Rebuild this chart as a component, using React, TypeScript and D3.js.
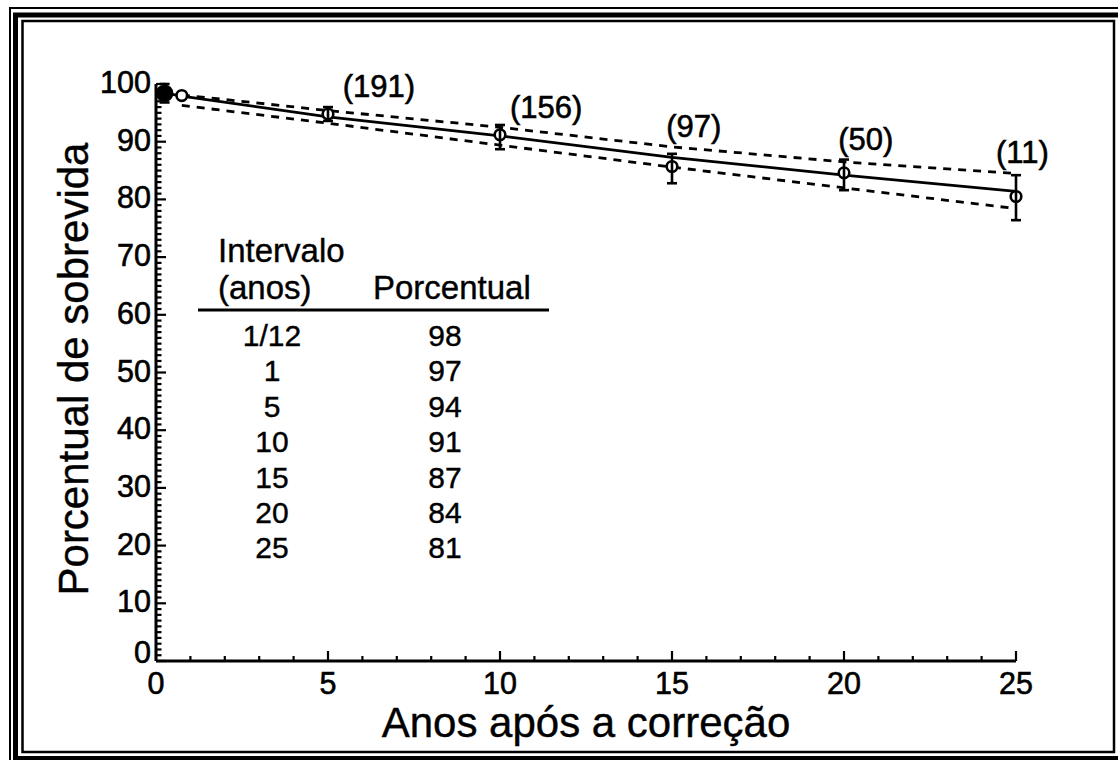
import React from "react";
import * as d3 from "d3";

// ---- data ----
const pointX = [0.25, 0.75, 5, 10, 15, 20, 25];
const pointY = [98.4, 98.0, 94.8, 91.2, 85.7, 84.6, 80.5];
const errHi = [100.0, 98.0, 96.0, 92.9, 87.9, 86.9, 84.2];
const errLo = [96.8, 98.0, 93.6, 88.7, 82.8, 81.6, 76.4];
const pointFilled = [true, false, false, false, false, false, false];

const fitX = [0.2, 0.75, 5, 10, 15, 20, 25];
const fitY = [98.5, 97.9, 94.3, 91.0, 87.3, 84.2, 81.4];

const bandX = [0.75, 5, 10, 15, 20, 25];
const bandUpper = [98.1, 95.4, 92.5, 89.1, 86.5, 84.5];
const bandLower = [96.3, 93.2, 89.4, 85.6, 82.0, 78.4];

const countLabels = ["(191)", "(156)", "(97)", "(50)", "(11)"];
const countLabelX = [5.43, 10.29, 14.83, 19.83, 24.42];
const countLabelY = [97.8, 94.05, 90.87, 88.56, 86.26];

const tableIntervals = ["1/12", "1", "5", "10", "15", "20", "25"];
const tablePercents = [98, 97, 94, 91, 87, 84, 81];

const xTicks = [0, 5, 10, 15, 20, 25];
const yTicks = [0, 10, 20, 30, 40, 50, 60, 70, 80, 90, 100];

const xTitle = "Anos após a correção";
const yTitle = "Porcentual de sobrevida";

const FONT = "'Liberation Sans', Arial, Helvetica, sans-serif";

export default function App() {
  const W = 1118;
  const H = 760;
  const x = d3.scaleLinear().domain([0, 25]).range([156, 1016]);
  const y = d3.scaleLinear().domain([0, 100]).range([661, 84]);

  const line = d3
    .line<[number, number]>()
    .x((d) => x(d[0]))
    .y((d) => y(d[1]));

  const fitPath = line(fitX.map((v, i) => [v, fitY[i]] as [number, number])) || "";
  const upPath = line(bandX.map((v, i) => [v, bandUpper[i]] as [number, number])) || "";
  const loPath = line(bandX.map((v, i) => [v, bandLower[i]] as [number, number])) || "";

  const yMinor = d3.range(0, 101, 1);
  const xMinor = d3.range(0, 26, 1);

  const tableX1 = 272;
  const tableX2 = 445;
  const txt = { fill: "#000", stroke: "#000", strokeWidth: 0.6 };

  return (
    <svg
      width={W}
      height={H}
      style={{ position: "absolute", left: 0, top: 0, background: "#fff" }}
      fontFamily={FONT}
    >
      <rect x={0} y={0} width={W} height={H} fill="#fff" />
      {/* frame */}
      <rect x={10} y={8} width={W + 40} height={H + 40} fill="none" stroke="#000" strokeWidth={2} />
      <rect x={15.5} y={15} width={W + 20} height={743.5} fill="none" stroke="#000" strokeWidth={5} />
      <rect x={22.5} y={21} width={1091.5} height={731} fill="none" stroke="#000" strokeWidth={2.5} />

      {/* y axis */}
      <line x1={x(0)} x2={x(0)} y1={y(0)} y2={y(100)} stroke="#000" strokeWidth={3} />
      {yMinor.map((t) => (
        <line
          key={"ym" + t}
          x1={x(0)}
          x2={x(0) + (t % 10 === 0 ? 10 : 5.5)}
          y1={y(t)}
          y2={y(t)}
          stroke="#000"
          strokeWidth={2.2}
        />
      ))}
      {yTicks.map((t) => (
        <text
          key={"yl" + t}
          x={151}
          y={y(t) + (t === 0 ? -6 : 1)}
          textAnchor="end"
          dominantBaseline="middle"
          fontSize={30.5}
          {...txt}
        >
          {t}
        </text>
      ))}

      {/* x axis */}
      <line x1={x(0)} x2={x(25)} y1={y(0)} y2={y(0)} stroke="#000" strokeWidth={2.8} />
      {xMinor.map((t) => (
        <line
          key={"xm" + t}
          x1={x(t)}
          x2={x(t)}
          y1={y(0)}
          y2={y(0) - (t % 5 === 0 ? 10 : 5)}
          stroke="#000"
          strokeWidth={2.2}
        />
      ))}
      {xTicks.map((t) => (
        <text key={"xl" + t} x={x(t)} y={694} textAnchor="middle" fontSize={30.5} {...txt}>
          {t}
        </text>
      ))}

      {/* titles */}
      <text x={586} y={737} textAnchor="middle" fontSize={42} {...txt} strokeWidth={0.4}>
        {xTitle}
      </text>
      <text
        transform={`translate(88, 369) rotate(-90)`}
        textAnchor="middle"
        fontSize={42}
        {...txt}
        strokeWidth={0.4}
      >
        {yTitle}
      </text>

      {/* confidence band */}
      <path d={upPath} fill="none" stroke="#000" strokeWidth={2.8} strokeDasharray="8 7" />
      <path d={loPath} fill="none" stroke="#000" strokeWidth={2.8} strokeDasharray="8 7" />
      {/* fitted line */}
      <path d={fitPath} fill="none" stroke="#000" strokeWidth={2.8} />

      {/* points */}
      {pointX.map((px, i) => {
        const cx = x(px);
        const cy = y(pointY[i]);
        const hasErr = errHi[i] !== errLo[i];
        return (
          <g key={"p" + i}>
            <circle
              cx={cx}
              cy={cy}
              r={pointFilled[i] ? 7.5 : 5.3}
              fill={pointFilled[i] ? "#000" : "#fff"}
              stroke="#000"
              strokeWidth={2.6}
            />
            {hasErr && (
              <g stroke="#000" strokeWidth={2.6}>
                <line x1={cx} x2={cx} y1={y(errHi[i])} y2={y(errLo[i])} />
                <line x1={cx - 5} x2={cx + 5} y1={y(errHi[i])} y2={y(errHi[i])} />
                <line x1={cx - 5} x2={cx + 5} y1={y(errLo[i])} y2={y(errLo[i])} />
              </g>
            )}
          </g>
        );
      })}

      {/* counts */}
      {countLabels.map((l, i) => (
        <text key={"c" + i} x={x(countLabelX[i])} y={y(countLabelY[i])} fontSize={31} {...txt}>
          {l}
        </text>
      ))}

      {/* inset table */}
      <text x={218} y={262} fontSize={33} {...txt} strokeWidth={0.4}>
        Intervalo
      </text>
      <text x={218} y={299} fontSize={33} {...txt} strokeWidth={0.4}>
        (anos)
      </text>
      <text x={373} y={299} fontSize={33} {...txt} strokeWidth={0.4}>
        Porcentual
      </text>
      <line x1={198} x2={549} y1={310} y2={310} stroke="#000" strokeWidth={3} />
      {tableIntervals.map((t, i) => (
        <g key={"t" + i}>
          <text x={tableX1} y={346 + i * 35.4} textAnchor="middle" fontSize={30} {...txt} strokeWidth={0.4}>
            {t}
          </text>
          <text x={tableX2} y={346 + i * 35.4} textAnchor="middle" fontSize={30} {...txt} strokeWidth={0.4}>
            {tablePercents[i]}
          </text>
        </g>
      ))}
    </svg>
  );
}
